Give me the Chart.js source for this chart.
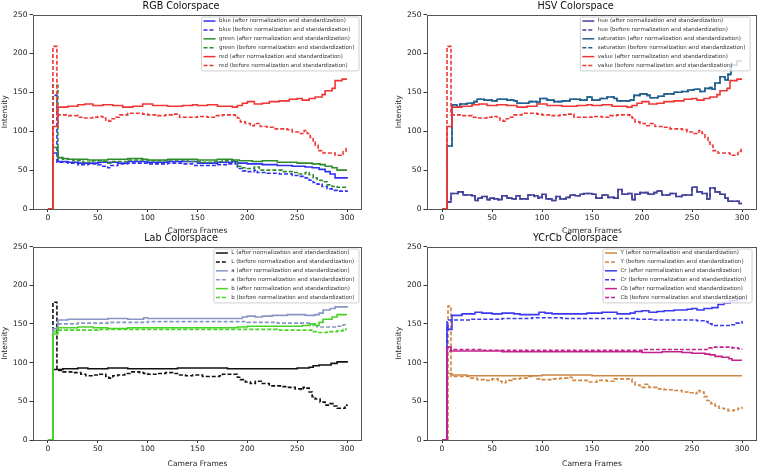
<!DOCTYPE html>
<html>
<head>
<meta charset="utf-8">
<script src="https://cdn.jsdelivr.net/npm/chart.js@4/dist/chart.umd.min.js"></script>
<style>
  body { margin: 0; background: #fff; }
  #fig { position: relative; width: 758px; height: 467px; overflow: hidden; }
  #fig canvas { position: absolute; }
</style>
</head>
<body>
<div id="fig">
  <canvas id="rgb" width="379" height="234" style="left:0;top:0"></canvas>
  <canvas id="hsv" width="379" height="234" style="left:379px;top:0"></canvas>
  <canvas id="lab" width="379" height="235" style="left:0;top:232px"></canvas>
  <canvas id="ycc" width="379" height="235" style="left:379px;top:232px"></canvas>
</div>
<script>
// tick labels
const xTicks = [0, 50, 100, 150, 200, 250, 300];
const yTicks = [0, 50, 100, 150, 200, 250];

// [frame, intensity] pairs (values hold until the next pair)
// RGB
const blueAfter = [[0,0],[5,72],[10,61],[20,60],[30,59],[50,60],[70,59],[80,61],[100,60],[120,61],[150,59],[170,60],[185,61],[190,59],[200,58],[215,57],[230,56],[245,55],[258,54],[265,53],[272,51],[278,48],[283,45],[288,40],[300,39]];
const blueBefore = [[0,0],[5,146],[9,60],[20,59],[30,57],[40,58],[50,57],[55,55],[60,53],[63,56],[70,58],[80,59],[100,58],[120,59],[135,58],[145,56],[160,56],[170,57],[180,58],[188,60],[190,52],[195,49],[200,48],[207,50],[210,47],[220,46],[232,45],[245,43],[252,42],[258,40],[262,37],[266,34],[270,32],[275,29],[280,26],[285,24],[290,23],[296,23],[300,24]];
const greenAfter = [[0,0],[5,79],[10,66],[15,65],[20,64],[40,63],[60,64],[80,65],[95,64],[100,63],[120,64],[150,63],[170,64],[185,63],[192,62],[205,61],[215,62],[230,60],[250,59],[265,58],[273,57],[278,55],[285,53],[290,50],[300,50]];
const greenBefore = [[0,0],[5,159],[10,65],[15,64],[25,62],[35,60],[45,62],[55,61],[60,59],[65,61],[80,63],[90,63],[100,62],[120,63],[140,61],[155,60],[165,61],[175,62],[188,61],[190,55],[195,53],[200,52],[207,54],[212,50],[220,50],[235,48],[245,47],[252,45],[258,47],[262,44],[266,40],[270,37],[275,35],[280,31],[285,29],[290,28],[300,29]];
const redAfter = [[0,0],[5,106],[10,131],[20,132],[30,134],[37,135],[45,133],[55,134],[65,133],[75,131],[85,132],[95,135],[105,133],[120,132],[135,133],[145,134],[150,133],[160,134],[170,132],[185,131],[190,133],[195,136],[200,138],[207,135],[215,136],[222,138],[232,139],[242,141],[250,142],[255,140],[262,142],[268,144],[275,147],[278,152],[285,155],[288,165],[295,167],[300,167]];
const redBefore = [[0,0],[5,209],[9,121],[20,120],[30,118],[35,117],[45,118],[50,119],[55,117],[58,114],[61,113],[63,116],[68,118],[72,121],[80,123],[95,122],[100,121],[110,120],[118,121],[125,122],[132,118],[145,118],[150,119],[160,118],[168,120],[175,121],[188,120],[190,117],[193,112],[198,110],[203,107],[207,110],[213,106],[220,105],[228,103],[240,102],[245,99],[252,97],[257,101],[260,97],[263,92],[266,86],[268,82],[271,75],[276,72],[285,72],[288,69],[294,70],[296,74],[299,79],[300,79]];

// HSV
const hueAfter = [[0,0],[5,9],[9,20],[16,22],[21,18],[30,17],[33,11],[36,14],[40,16],[45,12],[48,14],[52,13],[56,12],[60,17],[65,14],[70,13],[74,17],[78,13],[83,13],[86,18],[92,17],[96,15],[100,19],[104,13],[110,11],[114,16],[118,13],[124,15],[128,18],[133,17],[138,19],[142,20],[150,19],[154,14],[160,18],[166,15],[172,14],[176,25],[180,19],[186,20],[190,12],[193,19],[198,21],[206,19],[212,21],[215,23],[220,18],[228,20],[234,16],[240,18],[248,18],[250,28],[255,22],[260,20],[265,13],[268,27],[273,22],[278,19],[283,14],[286,10],[294,10],[297,7],[300,7]];
const hueBefore = [[0,0],[5,9],[9,20],[16,22],[21,18],[30,17],[33,11],[36,14],[40,16],[45,12],[48,14],[52,13],[56,12],[60,17],[65,14],[70,13],[74,17],[78,13],[83,13],[86,18],[92,16],[96,14],[100,18],[104,13],[110,11],[114,16],[118,13],[124,15],[128,18],[133,17],[138,19],[142,20],[150,19],[154,14],[160,18],[166,15],[172,14],[176,25],[180,19],[186,20],[190,12],[193,19],[198,21],[206,19],[212,21],[215,23],[220,18],[228,20],[234,16],[240,18],[248,18],[250,28],[255,22],[260,20],[265,13],[268,27],[273,22],[278,19],[283,14],[286,10],[294,10],[297,7],[300,7]];
const satAfter = [[0,0],[5,81],[10,134],[15,131],[18,135],[25,136],[32,138],[35,141],[42,140],[50,139],[55,141],[65,140],[72,139],[75,136],[82,136],[87,138],[95,137],[98,142],[105,140],[112,138],[120,139],[128,141],[138,140],[145,144],[150,140],[158,142],[165,144],[172,142],[175,139],[188,140],[192,146],[198,148],[205,146],[208,143],[216,145],[222,148],[232,150],[240,151],[246,153],[252,154],[258,151],[263,155],[268,156],[270,154],[273,162],[278,170],[283,166],[286,173],[289,185],[295,190],[300,190]];
const satBefore = [[0,0],[5,81],[10,134],[15,131],[18,135],[25,136],[32,138],[35,141],[42,140],[50,139],[55,141],[65,140],[72,139],[75,136],[82,136],[87,138],[95,137],[98,142],[105,140],[112,138],[120,139],[128,141],[138,140],[145,144],[150,140],[158,142],[165,144],[172,142],[175,139],[188,140],[192,146],[198,148],[205,146],[208,143],[216,145],[222,148],[232,150],[240,151],[246,153],[252,154],[258,151],[263,155],[268,156],[270,154],[273,162],[278,170],[283,166],[286,173],[289,185],[295,190],[300,190]];
const valueAfter = redAfter;
const valueBefore = redBefore;

// Lab
const lAfter = [[0,0],[5,91],[15,92],[30,93],[40,92],[60,93],[80,92],[130,93],[180,92],[250,93],[262,94],[266,96],[272,97],[280,97],[284,99],[290,101],[300,102]];
const lBefore = [[0,0],[5,178],[9,90],[15,88],[25,87],[33,85],[38,83],[45,84],[52,85],[58,82],[61,80],[65,83],[70,84],[77,86],[83,88],[92,87],[96,86],[100,85],[110,86],[118,87],[125,86],[130,84],[138,83],[145,84],[155,82],[165,82],[172,83],[175,85],[188,85],[190,81],[193,78],[198,75],[203,73],[208,76],[214,73],[222,70],[235,69],[240,68],[248,66],[254,65],[256,68],[259,67],[262,62],[265,56],[268,53],[273,49],[278,45],[283,47],[287,44],[290,41],[295,41],[298,45],[300,46]];
const aAfter = [[0,0],[5,144],[10,155],[20,156],[60,157],[80,156],[96,158],[100,157],[190,157],[195,159],[200,160],[208,159],[215,160],[225,161],[240,162],[258,161],[268,162],[272,164],[276,168],[283,170],[288,172],[300,173]];
const aBefore = [[0,0],[5,143],[10,150],[30,151],[60,152],[100,153],[190,153],[200,152],[230,151],[262,150],[266,148],[270,146],[280,146],[290,147],[296,149],[300,150]];
const bAfter = [[0,0],[5,137],[10,145],[30,146],[45,145],[60,144],[80,145],[190,146],[200,147],[255,148],[263,150],[268,148],[272,152],[276,156],[285,159],[290,162],[300,162]];
const bBefore = [[0,0],[5,140],[10,142],[50,143],[190,143],[230,142],[262,142],[266,140],[270,139],[280,140],[290,141],[296,143],[300,143]];

// YCrCb
const yAfter = [[0,0],[5,86],[10,84],[25,83],[100,84],[150,83],[300,83]];
const yBefore = [[0,0],[6,173],[9,82],[20,82],[28,80],[35,78],[42,77],[50,79],[56,76],[60,74],[64,77],[70,79],[78,80],[85,82],[90,83],[95,79],[100,78],[110,79],[118,80],[126,81],[130,77],[138,77],[145,75],[155,77],[165,76],[172,79],[185,79],[190,75],[193,71],[198,68],[203,72],[207,68],[215,66],[222,65],[232,64],[240,62],[248,61],[252,60],[255,64],[258,62],[262,56],[265,51],[269,47],[273,44],[277,41],[282,40],[286,38],[292,39],[296,41],[300,43]];
const crAfter = [[0,0],[5,148],[6,143],[10,161],[20,163],[33,165],[40,164],[50,163],[60,164],[72,163],[78,162],[90,162],[97,165],[103,164],[110,163],[145,164],[160,165],[175,163],[188,164],[193,166],[200,167],[207,165],[215,166],[222,167],[232,168],[245,169],[250,170],[255,168],[262,170],[270,171],[276,175],[282,177],[288,180],[295,182],[300,183]];
const crBefore = [[0,0],[5,155],[30,156],[60,157],[90,158],[120,157],[180,157],[195,156],[210,155],[255,154],[262,153],[266,150],[270,148],[280,148],[288,149],[294,151],[300,154]];
const cbAfter = [[0,0],[5,120],[9,115],[30,115],[60,114],[200,113],[220,114],[240,113],[250,112],[263,111],[268,110],[273,108],[280,107],[287,105],[290,103],[300,103]];
const cbBefore = [[0,0],[5,115],[9,117],[40,116],[190,116],[200,117],[260,117],[266,119],[270,120],[280,120],[290,119],[296,118],[300,117]];

const AFTER = ' (after normalization and standardization)';
const BEFORE = ' (before normalization and standardization)';
const FONT = '"DejaVu Sans", sans-serif';

// frame box + legend drawn inside the axes, upper right
const boxLegend = {
    id: 'boxLegend',
    afterDatasetsDraw(chart, args, opts) {
        const {ctx, chartArea} = chart;
        ctx.save();
        ctx.strokeStyle = '#555';
        ctx.lineWidth = 1;
        ctx.setLineDash([]);
        ctx.strokeRect(Math.round(chartArea.left) + 0.5, Math.round(chartArea.top) + 0.5,
            Math.round(chartArea.right - chartArea.left) - 1, Math.round(chartArea.bottom - chartArea.top));

        const items = chart.data.datasets;
        ctx.font = '5.5px ' + FONT;
        const textW = Math.max(...items.map(d => ctx.measureText(d.label).width));
        const rowH = 8.9;
        const w = 18 + textW + 4;
        const h = items.length * rowH + 0.5;
        const x0 = chartArea.right - opts.right - w;
        const y0 = chartArea.top + 2.5;
        ctx.fillStyle = 'rgba(255,255,255,0.8)';
        ctx.strokeStyle = '#cfcfcf';
        ctx.beginPath();
        ctx.roundRect(x0, y0, w, h, 1.5);
        ctx.fill();
        ctx.stroke();
        ctx.textBaseline = 'middle';
        items.forEach((d, i) => {
            const yy = y0 + 4 + i * rowH;
            ctx.strokeStyle = d.borderColor;
            ctx.lineWidth = 1.5;
            ctx.setLineDash(d.borderDash || []);
            ctx.beginPath();
            ctx.moveTo(x0 + 2, yy);
            ctx.lineTo(x0 + 14, yy);
            ctx.stroke();
            ctx.fillStyle = '#333';
            ctx.fillText(d.label, x0 + 17.5, yy);
        });
        ctx.restore();
    }
};

function makeChart(id, title, series, padLeft, padRight, legendRight) {
    const datasets = series.map((s, i) => ({
        label: s[0],
        data: s[1].map(p => ({x: p[0], y: p[1]})),
        borderColor: s[2],
        borderDash: s[3] ? [4, 2] : [],
        borderWidth: 1.6,
        pointRadius: 0,
        stepped: true,
        fill: false,
        order: series.length - i
    }));
    const canvas = document.getElementById(id);
    return new Chart(canvas.getContext('2d'), {
        type: 'line',
        data: {datasets: datasets},
        options: {
            responsive: false,
            animation: false,
            events: [],
            layout: {padding: {left: padLeft, right: padRight, top: 0, bottom: 0}},
            plugins: {
                legend: {display: false},
                tooltip: {enabled: false},
                title: {
                    display: true,
                    text: title,
                    color: '#111',
                    font: {family: FONT, size: 9.6, weight: 'normal', lineHeight: 1.2},
                    padding: {top: 1, bottom: 2}
                },
                boxLegend: {right: legendRight}
            },
            scales: {
                x: {
                    type: 'linear',
                    min: -15,
                    max: 315,
                    afterBuildTicks: s => { s.ticks = xTicks.map(v => ({value: v})); },
                    afterFit: s => { s.height = canvas.height - 209 - (id === 'lab' || id === 'ycc' ? -1 : 0); },
                    grid: {display: true, drawOnChartArea: false, drawTicks: true, tickLength: 3, color: '#333'},
                    border: {display: false},
                    ticks: {color: '#222', padding: 1, font: {family: FONT, size: 7.6}, maxRotation: 0},
                    title: {display: true, text: 'Camera Frames', color: '#222', padding: {top: 0, bottom: -1.5},
                        font: {family: FONT, size: 7.6, lineHeight: 1.2}}
                },
                y: {
                    min: 0,
                    max: 250,
                    afterBuildTicks: s => { s.ticks = yTicks.map(v => ({value: v})); },
                    afterFit: s => { s.width = 33; },
                    grid: {display: true, drawOnChartArea: false, drawTicks: true, tickLength: 3.5, color: '#333'},
                    border: {display: false},
                    ticks: {color: '#222', padding: 2, font: {family: FONT, size: 7.6}},
                    title: {display: true, text: 'Intensity', color: '#222', padding: 0,
                        font: {family: FONT, size: 7.6, lineHeight: 1.3}}
                }
            }
        },
        plugins: [boxLegend]
    });
}

makeChart('rgb', 'RGB Colorspace', [
    ['blue' + AFTER, blueAfter, '#3030f5', false],
    ['blue' + BEFORE, blueBefore, '#3030f5', true],
    ['green' + AFTER, greenAfter, '#2e8c2e', false],
    ['green' + BEFORE, greenBefore, '#2e8c2e', true],
    ['red' + AFTER, redAfter, '#f03535', false],
    ['red' + BEFORE, redBefore, '#f03535', true]
], 0, 17, 3);

makeChart('hsv', 'HSV Colorspace', [
    ['hue' + AFTER, hueAfter, '#43439c', false],
    ['hue' + BEFORE, hueBefore, '#43439c', true],
    ['saturation' + AFTER, satAfter, '#22608f', false],
    ['saturation' + BEFORE, satBefore, '#22608f', true],
    ['value' + AFTER, valueAfter, '#f03535', false],
    ['value' + BEFORE, valueBefore, '#f03535', true]
], 15, 1, 7);

makeChart('lab', 'Lab Colorspace', [
    ['L' + AFTER, lAfter, '#111111', false],
    ['L' + BEFORE, lBefore, '#111111', true],
    ['a' + AFTER, aAfter, '#8796c4', false],
    ['a' + BEFORE, aBefore, '#8796c4', true],
    ['b' + AFTER, bAfter, '#48d424', false],
    ['b' + BEFORE, bBefore, '#48d424', true]
], 0, 17, 3);

makeChart('ycc', 'YCrCb Colorspace', [
    ['Y' + AFTER, yAfter, '#cf8543', false],
    ['Y' + BEFORE, yBefore, '#cf8543', true],
    ['Cr' + AFTER, crAfter, '#3a3af2', false],
    ['Cr' + BEFORE, crBefore, '#3a3af2', true],
    ['Cb' + AFTER, cbAfter, '#c2228a', false],
    ['Cb' + BEFORE, cbBefore, '#c2228a', true]
], 15, 1, 5);
</script>
</body>
</html>
